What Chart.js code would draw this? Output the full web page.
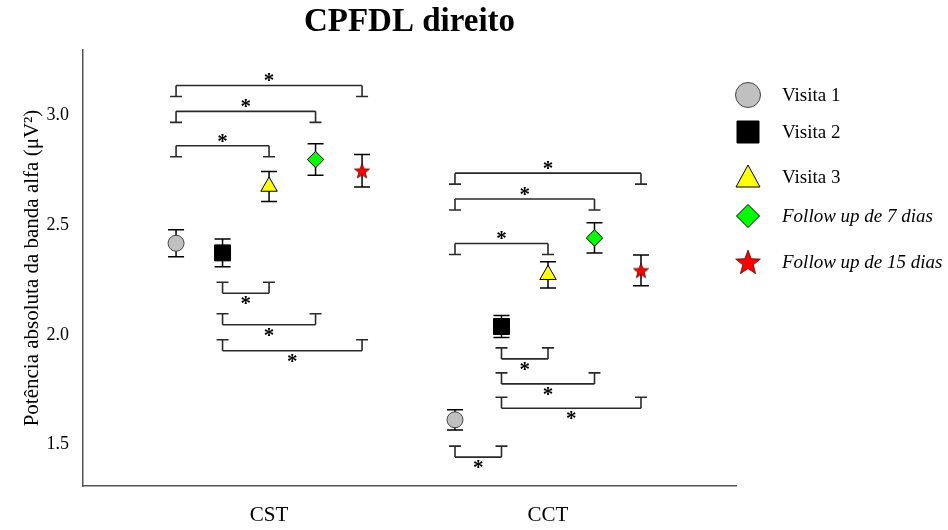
<!DOCTYPE html>
<html>
<head>
<meta charset="utf-8">
<script src="https://cdn.jsdelivr.net/npm/chart.js"></script>
<style>
  body { margin: 0; background: #fff; }
</style>
</head>
<body>
<canvas id="chart" width="948" height="530"></canvas>
<script>
// Categories and series
const categories = ['CST', 'CCT'];
const seriesNames = ['Visita 1', 'Visita 2', 'Visita 3', 'Follow up de 7 dias', 'Follow up de 15 dias'];

// Means (one value per category) and error bars
const visita1 = [2.418, 1.612];
const visita1Err = [0.062, 0.046];
const visita2 = [2.374, 2.038];
const visita2Err = [0.063, 0.050];
const visita3 = [2.677, 2.274];
const visita3Err = [0.068, 0.060];
const follow7 = [2.800, 2.442];
const follow7Err = [0.072, 0.069];
const follow15 = [2.749, 2.294];
const follow15Err = [0.074, 0.070];

const yTicks = [1.5, 2.0, 2.5, 3.0];

// Significance brackets: category, from series, to series, level, side
const bracketCategory = [0, 0, 0, 0, 0, 0, 1, 1, 1, 1, 1, 1, 1];
const bracketFrom = [0, 0, 0, 1, 1, 1, 0, 0, 0, 1, 1, 1, 0];
const bracketTo = [4, 3, 2, 2, 3, 4, 4, 3, 2, 2, 3, 4, 1];
const bracketLevel = [3.138, 3.020, 2.863, 2.190, 2.046, 1.927, 2.738, 2.620, 2.417, 1.890, 1.776, 1.665, 1.442];
const bracketSide = ['up', 'up', 'up', 'down', 'down', 'down', 'up', 'up', 'up', 'down', 'down', 'down', 'down'];

const means = [visita1, visita2, visita3, follow7, follow15];
const errs = [visita1Err, visita2Err, visita3Err, follow7Err, follow15Err];

const serif = "'Liberation Serif', 'Times New Roman', serif";
const seriesStep = 0.1667; // spacing of the series inside a category

// draw a filled 5 point star on a small canvas (chart.js "star" is only lines)
function makeStar(size, fill, stroke) {
  const c = document.createElement('canvas');
  c.width = size; c.height = size;
  const g = c.getContext('2d');
  const cx = size / 2, cy = size / 2 + size * 0.04;
  const ro = size / 2 - 1, ri = ro * 0.42;
  g.beginPath();
  for (let i = 0; i < 10; i++) {
    const r = i % 2 ? ri : ro;
    const a = -Math.PI / 2 + i * Math.PI / 5;
    g.lineTo(cx + r * Math.cos(a), cy + r * Math.sin(a));
  }
  g.closePath();
  g.fillStyle = fill; g.fill();
  g.strokeStyle = stroke; g.lineWidth = 0.8; g.stroke();
  return c;
}

const markers = [
  { style: 'circle', radius: 8, fill: '#c0c0c0', border: '#444', legendRadius: 12.5 },
  { style: 'rect', radius: 11.3, fill: '#000000', border: '#000' },
  { style: 'triangle', radius: 9.5, fill: '#ffff00', border: '#000' },
  { style: 'rectRot', radius: 8.2, fill: '#00ff00', border: '#000' },
  { style: makeStar(18, '#ff0000', '#600'), radius: 9, fill: '#ff0000', border: '#600', legendStar: makeStar(28, '#ff0000', '#600') }
];

const datasets = seriesNames.map((name, i) => ({
  label: name,
  data: categories.map((c, k) => ({ x: k + 1 + (i - 2) * seriesStep, y: means[i][k] })),
  pointStyle: markers[i].style,
  pointRadius: markers[i].radius,
  pointBackgroundColor: markers[i].fill,
  pointBorderColor: markers[i].border,
  pointBorderWidth: 1,
  showLine: false
}));

// Error bars under the markers
const errorBars = {
  id: 'errorBars',
  beforeDatasetsDraw(chart) {
    const ctx = chart.ctx, xs = chart.scales.x, ys = chart.scales.y;
    ctx.save();
    ctx.strokeStyle = '#000';
    ctx.lineWidth = 1.5;
    means.forEach((vals, i) => {
      vals.forEach((v, k) => {
        const x = xs.getPixelForValue(k + 1 + (i - 2) * seriesStep);
        const top = ys.getPixelForValue(v + errs[i][k]);
        const bot = ys.getPixelForValue(v - errs[i][k]);
        ctx.beginPath();
        ctx.moveTo(x, top); ctx.lineTo(x, bot);
        ctx.moveTo(x - 8, top); ctx.lineTo(x + 8, top);
        ctx.moveTo(x - 8, bot); ctx.lineTo(x + 8, bot);
        ctx.stroke();
      });
    });
    ctx.restore();
  }
};

// Significance brackets with asterisks
const brackets = {
  id: 'brackets',
  afterDatasetsDraw(chart) {
    const ctx = chart.ctx, xs = chart.scales.x, ys = chart.scales.y;
    const leg = 11, foot = 6;
    ctx.save();
    ctx.strokeStyle = '#2a2a2a';
    ctx.lineWidth = 1.6;
    ctx.fillStyle = '#000';
    ctx.font = 'bold 21px ' + serif;
    ctx.textAlign = 'center';
    ctx.textBaseline = 'alphabetic';
    bracketLevel.forEach((lvl, b) => {
      const cat = bracketCategory[b] + 1;
      const x1 = xs.getPixelForValue(cat + (bracketFrom[b] - 2) * seriesStep);
      const x2 = xs.getPixelForValue(cat + (bracketTo[b] - 2) * seriesStep);
      const y = ys.getPixelForValue(lvl);
      const dir = bracketSide[b] === 'up' ? 1 : -1;
      const ye = y + dir * leg;
      ctx.beginPath();
      ctx.moveTo(x1, y); ctx.lineTo(x2, y);
      ctx.moveTo(x1, y); ctx.lineTo(x1, ye);
      ctx.moveTo(x2, y); ctx.lineTo(x2, ye);
      ctx.moveTo(x1 - foot, ye); ctx.lineTo(x1 + foot, ye);
      ctx.moveTo(x2 - foot, ye); ctx.lineTo(x2 + foot, ye);
      ctx.stroke();
      const ay = bracketSide[b] === 'up' ? y - 8 : y + 7;
      ctx.fillText('*', (x1 + x2) / 2, ay + 10);
    });
    ctx.restore();
  }
};

// Legend on the right side with uneven rows
const sideLegend = {
  id: 'sideLegend',
  afterDraw(chart) {
    const ctx = chart.ctx;
    const rows = [95, 132, 177, 216, 262];
    const mx = chart.chartArea.right + 12, tx = chart.chartArea.right + 46;
    ctx.save();
    seriesNames.forEach((name, i) => {
      const m = markers[i], y = rows[i];
      ctx.fillStyle = m.fill;
      ctx.strokeStyle = m.border;
      ctx.lineWidth = 1;
      ctx.beginPath();
      if (i === 0) {
        ctx.arc(mx, y, m.legendRadius, 0, Math.PI * 2);
      } else if (i === 1) {
        ctx.rect(mx - 11, y - 11, 22, 22);
      } else if (i === 2) {
        ctx.moveTo(mx, y - 12); ctx.lineTo(mx + 12, y + 10); ctx.lineTo(mx - 12, y + 10); ctx.closePath();
      } else if (i === 3) {
        ctx.moveTo(mx, y - 11.5); ctx.lineTo(mx + 11.5, y); ctx.lineTo(mx, y + 11.5); ctx.lineTo(mx - 11.5, y); ctx.closePath();
      }
      if (i < 4) { ctx.fill(); ctx.stroke(); }
      else ctx.drawImage(m.legendStar, mx - 14, y - 14);
      ctx.fillStyle = '#000';
      ctx.font = (i >= 3 ? 'italic ' : '') + '19px ' + serif;
      ctx.textAlign = 'left';
      ctx.textBaseline = 'middle';
      ctx.fillText(name, tx, y + 1);
    });
    ctx.restore();
  }
};

new Chart(document.getElementById('chart'), {
  type: 'scatter',
  data: { datasets: datasets },
  options: {
    responsive: false,
    animation: false,
    devicePixelRatio: 1,
    layout: { padding: { left: 0, right: 212, top: 0, bottom: 0 } },
    plugins: {
      legend: { display: false },
      tooltip: { enabled: false },
      title: {
        display: true,
        text: 'CPFDL direito',
        fullSize: false,
        color: '#000',
        font: { family: serif, size: 33, weight: 'bold' },
        padding: { top: 3, bottom: 7.4 }
      }
    },
    scales: {
      x: {
        type: 'linear',
        min: 0.333,
        max: 2.674,
        grid: { display: false, drawTicks: false },
        border: { display: true, color: '#555', width: 1.5 },
        afterBuildTicks: s => { s.ticks = categories.map((c, i) => ({ value: i + 1 })); },
        afterFit: s => { s.height = 44; },
        ticks: {
          color: '#000',
          font: { family: serif, size: 21 },
          padding: 17,
          maxRotation: 0,
          callback: v => categories[v - 1]
        }
      },
      y: {
        min: 1.31,
        max: 3.30,
        grid: { display: false, drawTicks: false },
        border: { display: true, color: '#555', width: 1.5 },
        afterBuildTicks: s => { s.ticks = yTicks.map(v => ({ value: v })); },
        afterFit: s => { s.width = 83; },
        ticks: {
          color: '#000',
          font: { family: serif, size: 18 },
          padding: 14,
          callback: v => v.toFixed(1)
        },
        title: {
          display: true,
          text: 'Potência absoluta da banda alfa (μV²)',
          color: '#000',
          font: { family: serif, size: 21 },
          padding: { top: 20, bottom: 0 }
        }
      }
    }
  },
  plugins: [errorBars, brackets, sideLegend]
});
</script>
</body>
</html>
